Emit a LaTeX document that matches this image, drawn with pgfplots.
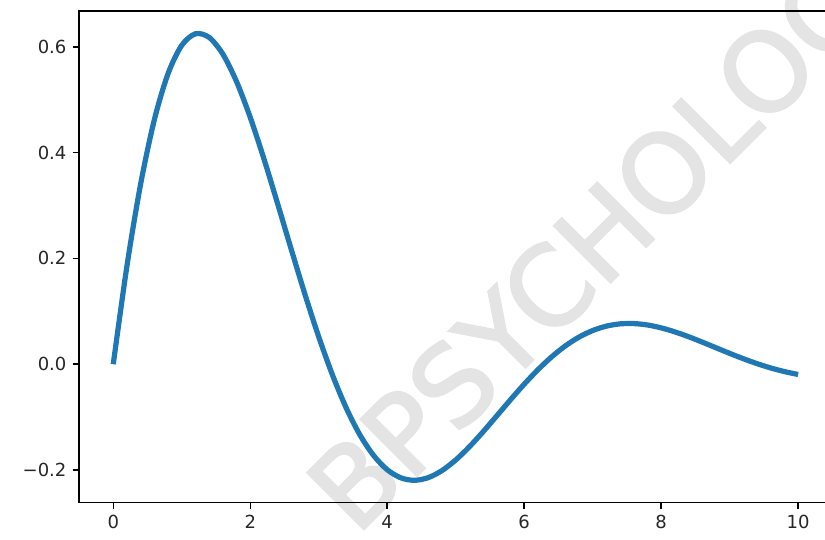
\documentclass[border=0pt]{standalone}
\usepackage{pgfplots}
\pgfplotsset{compat=1.18}
\usepackage{fontspec}
\setmainfont{DejaVu Sans}
\newfontfamily\wmfont[FakeBold=2]{DejaVu Sans}
\definecolor{mplblue}{HTML}{1F77B4}
\definecolor{wmgray}{HTML}{E4E4E4}
\begin{document}
\begin{tikzpicture}
\node[rotate=45, anchor=base west, inner sep=0pt, text=wmgray, font=\wmfont\fontsize{61bp}{64bp}\selectfont]
  at (153.9bp,-19.1bp) {BPSYCHOLOGY};
\begin{axis}[
  at={(0,0)}, anchor=south west,
  scale only axis,
  width=418.6bp, height=273.2bp,
  xmin=-0.5, xmax=10.5,
  ymin=-0.2618, ymax=0.6679,
  xtick={0,2,4,6,8,10},
  ytick={-0.2,0,0.2,0.4,0.6},
  xticklabels={0,2,4,6,8,10},
  yticklabels={−0.2,0.0,0.2,0.4,0.6},
  tick pos=left,
  tick align=outside,
  major tick length=3.5bp,
  every tick/.style={black, line width=0.8bp},
  axis line style={line width=0.8bp, black},
  tick label style={font=\fontsize{10bp}{12bp}\selectfont, text=black!85},
  /pgf/number format/assume math mode=true,
  axis x line*=box, axis y line*=box,
]
\addplot[mplblue, line width=2.9bp, smooth] coordinates {
(0.0,0.0) (0.2,0.18586) (0.4,0.34081) (0.6,0.46229) (0.8,0.54945)
(1.0,0.60294) (1.2,0.62477) (1.4,0.61797) (1.6,0.58640) (1.8,0.53446)
(2.0,0.46685) (2.2,0.38833) (2.4,0.30351) (2.6,0.21669) (2.8,0.13173)
(3.0,0.05192) (3.2,-0.02009) (3.4,-0.08227) (3.6,-0.13328) (3.8,-0.17240)
(4.0,-0.19949) (4.2,-0.21493) (4.4,-0.21953) (4.6,-0.21445) (4.8,-0.20112)
(5.0,-0.18112) (5.2,-0.15610) (5.4,-0.12774) (5.6,-0.09762) (5.8,-0.06721)
(6.0,-0.03782) (6.2,-0.01052) (6.4,0.01380) (6.6,0.03452) (6.8,0.05122)
(7.0,0.06371) (7.2,0.07200) (7.4,0.07627) (7.6,0.07684) (7.8,0.07416)
(8.0,0.06874) (8.2,0.06115) (8.4,0.05197) (8.6,0.04178) (8.8,0.03113)
(9.0,0.02052) (9.2,0.01038) (9.4,0.00108) (9.6,-0.00711) (9.8,-0.01397)
(10.0,-0.01941)
};
\end{axis}
\pgfresetboundingbox
\useasboundingbox (-43.9bp,-20.7bp) rectangle (414.5bp,279.3bp);
\end{tikzpicture}
\end{document}
